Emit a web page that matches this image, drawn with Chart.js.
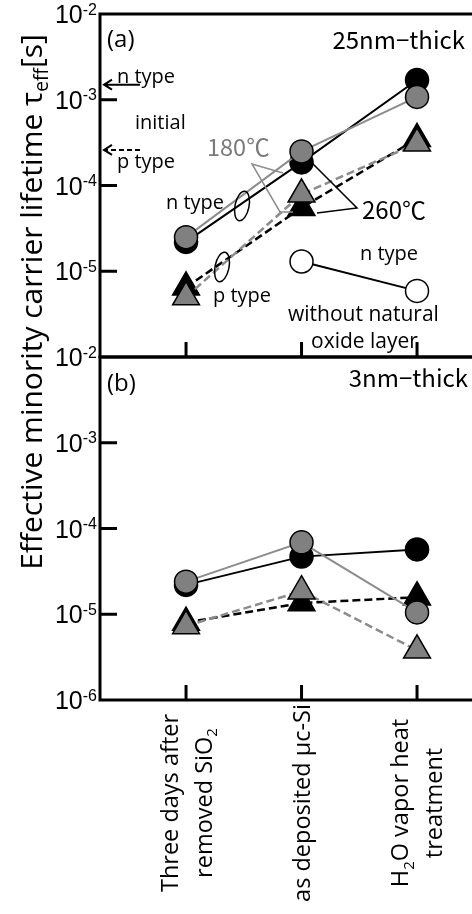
<!DOCTYPE html>
<html>
<head>
<meta charset="utf-8">
<script src="https://cdn.jsdelivr.net/npm/chart.js@4.4.1/dist/chart.umd.min.js"></script>
<style>
  html, body { margin: 0; padding: 0; background: #fff; }
  #wrap { position: relative; width: 472px; height: 914px; }
  canvas { position: absolute; left: 0; top: 0; }
</style>
</head>
<body>
<div id="wrap">
  <canvas id="chartA" width="472" height="372"></canvas>
  <canvas id="chartB" width="472" height="914"></canvas>
</div>
<script>
// categories along x (each entry = lines of the rotated label)
var categories = [["Three days after", "removed SiO_{2}"], ["as deposited \u03bcc-Si"], ["H_{2}O vapor heat", "treatment"]];
var decadeTicks = [1e-2, 1e-3, 1e-4, 1e-5, 1e-6];
var yTitle = "Effective minority carrier lifetime \u03c4_{eff}[s]";

// (a) 25nm-thick
var aN180 = [2.5e-5, 2.5e-4, 1.08e-3];
var aN260 = [2.2e-5, 1.86e-4, 1.7e-3];
var aP180 = [5.0e-6, 7.9e-5, 3.1e-4];
var aP260 = [6.5e-6, 5.5e-5, 3.5e-4];
var aNoOxide = [null, 1.3e-5, 5.9e-6];
var initialN = 1.5e-3;
var initialP = 2.6e-4;

// (b) 3nm-thick
var bN180 = [2.4e-5, 6.9e-5, 1.05e-5];
var bN260 = [2.2e-5, 4.7e-5, 5.7e-5];
var bP180 = [7.3e-6, 1.86e-5, 3.8e-6];
var bP260 = [8.0e-6, 1.35e-5, 1.58e-5];

var GRAY = '#808080';
var GRAYLINE = '#8c8c8c';
var SANS = '"Open Sans", "Noto Sans", sans-serif';
var JP = '"Noto Sans CJK JP", sans-serif';
var ARIAL = '"Liberation Sans", Arial, sans-serif';

function parseRich(s) {
    var parts = [], re = /([_^])\{([^}]*)\}/g, last = 0, m;
    while ((m = re.exec(s))) {
        if (m.index > last) parts.push({ t: s.slice(last, m.index), k: '' });
        parts.push({ t: m[2], k: m[1] });
        last = re.lastIndex;
    }
    if (last < s.length) parts.push({ t: s.slice(last), k: '' });
    return parts;
}

// draws text with _{sub} and ^{sup}; y is the baseline
function drawRich(ctx, s, x, y, size, family, align) {
    var parts = parseRich(s), w = 0;
    parts.forEach(function (p) {
        p.size = p.k ? size * 0.64 : size;
        ctx.font = p.size + 'px ' + family;
        p.w = ctx.measureText(p.t).width;
        w += p.w;
    });
    var cx = align === 'center' ? x - w / 2 : (align === 'right' ? x - w : x);
    ctx.textAlign = 'left';
    ctx.textBaseline = 'alphabetic';
    parts.forEach(function (p) {
        ctx.font = p.size + 'px ' + family;
        var dy = p.k === '_' ? size * 0.22 : (p.k === '^' ? -size * 0.34 : 0);
        ctx.fillText(p.t, cx, y + dy);
        cx += p.w;
    });
}

// text centred vertically on yc
function label(ctx, s, x, yc, size, family, align, color) {
    ctx.fillStyle = color || '#000';
    drawRich(ctx, s, x, yc + size * 0.36, size, family, align);
}

function series(vals) {
    return vals.map(function (v, i) { return { x: i, y: v }; });
}

function ds(vals, fill, shape, lineColor, dashed, width) {
    return {
        data: series(vals),
        borderColor: lineColor,
        borderWidth: width,
        borderDash: dashed ? [8, 4] : [],
        pointStyle: shape,
        pointRadius: shape === 'triangle' ? 15.5 : 11.5,
        pointBorderWidth: 1.5,
        pointBorderColor: '#000',
        pointBackgroundColor: fill,
        showLine: true,
        tension: 0,
        fill: false
    };
}

var framePlugin = {
    id: 'frame',
    afterDraw: function (chart, args, opts) {
        var ctx = chart.ctx, a = chart.chartArea;
        var ys = chart.scales.y, xs = chart.scales.x;
        ctx.save();
        ctx.strokeStyle = '#000';
        ctx.lineWidth = 3;
        ctx.beginPath();
        ctx.moveTo(a.left, a.top); ctx.lineTo(a.right, a.top);
        ctx.moveTo(a.left, a.top - 1.5); ctx.lineTo(a.left, a.bottom + 1.5);
        ctx.moveTo(a.left, a.bottom); ctx.lineTo(a.right, a.bottom);
        ctx.stroke();
        decadeTicks.forEach(function (v) {
            var py = ys.getPixelForValue(v);
            if (v < ys.max && v > ys.min) {
                ctx.beginPath();
                ctx.moveTo(a.left, py); ctx.lineTo(a.left + 17, py);
                ctx.stroke();
            }
            if (opts.skip.indexOf(v) < 0) {
                ctx.fillStyle = '#000';
                drawRich(ctx, '10^{' + Math.round(Math.log10(v)) + '}', 97, py + 9, 25, ARIAL, 'right');
            }
        });
        categories.forEach(function (c, i) {
            var px = xs.getPixelForValue(i);
            ctx.beginPath();
            ctx.moveTo(px, a.bottom); ctx.lineTo(px, a.bottom - 15);
            ctx.stroke();
        });
        ctx.restore();
    }
};

function baseOptions(padding, skip) {
    return {
        responsive: false,
        animation: false,
        devicePixelRatio: 1,
        events: [],
        layout: { padding: padding, autoPadding: false },
        plugins: { legend: { display: false }, tooltip: { enabled: false }, frame: { skip: skip } },
        scales: {
            x: { type: 'linear', display: false, min: -0.745, max: 2.476 },
            y: { type: 'logarithmic', display: false, min: 1e-6, max: 1e-2 }
        }
    };
}

var annotA = {
    id: 'annotA',
    afterDraw: function (chart) {
        var ctx = chart.ctx, ys = chart.scales.y;
        ctx.save();
        label(ctx, '(a)', 107, 38, 24, SANS, 'left');
        label(ctx, '25nm\u2212thick', 465, 40, 24, JP, 'right');

        // initial values arrows
        var yn = ys.getPixelForValue(initialN), yp = ys.getPixelForValue(initialP);
        ctx.strokeStyle = '#000';
        ctx.lineWidth = 2;
        ctx.beginPath();
        ctx.moveTo(140, yn); ctx.lineTo(104, yn);
        ctx.moveTo(112, yn - 5); ctx.lineTo(104, yn); ctx.lineTo(112, yn + 5);
        ctx.stroke();
        ctx.setLineDash([5, 3]);
        ctx.beginPath();
        ctx.moveTo(140, yp); ctx.lineTo(105, yp);
        ctx.stroke();
        ctx.setLineDash([]);
        ctx.beginPath();
        ctx.moveTo(112, yp - 5); ctx.lineTo(104, yp); ctx.lineTo(112, yp + 5);
        ctx.stroke();
        label(ctx, 'n type', 117, yn - 9, 20, SANS, 'left');
        label(ctx, 'initial', 135, 122, 20, SANS, 'left');
        label(ctx, 'p type', 117, yp + 11, 20, SANS, 'left');

        // temperature pointers
        label(ctx, '180\u2103', 207, 148, 23.5, JP, 'left', '#7a7a7a');
        ctx.lineWidth = 1.5;
        ctx.strokeStyle = GRAYLINE;
        ctx.beginPath();
        ctx.moveTo(283, 173); ctx.lineTo(252, 164); ctx.lineTo(280, 212); ctx.lineTo(293, 212);
        ctx.stroke();
        ctx.strokeStyle = '#000';
        ctx.beginPath();
        ctx.moveTo(311, 162); ctx.lineTo(357, 208); ctx.lineTo(317, 213);
        ctx.stroke();
        label(ctx, '260\u2103', 362, 210, 24, JP, 'left');

        // type ellipses
        label(ctx, 'n type', 166, 202, 20, SANS, 'left');
        ctx.beginPath();
        ctx.ellipse(242, 206, 7, 15, 0.2, 0, Math.PI * 2);
        ctx.stroke();
        ctx.beginPath();
        ctx.ellipse(222, 267, 7, 15, 0.2, 0, Math.PI * 2);
        ctx.stroke();
        label(ctx, 'p type', 213, 295, 20, SANS, 'left');

        label(ctx, 'n type', 360, 253, 20, SANS, 'left');
        label(ctx, 'without natural', 288, 313, 21, SANS, 'left');
        label(ctx, 'oxide layer', 311, 340, 21, SANS, 'left');
        ctx.restore();
    }
};

var annotB = {
    id: 'annotB',
    afterDraw: function (chart) {
        var ctx = chart.ctx, xs = chart.scales.x;
        ctx.save();
        label(ctx, '(b)', 107, 382, 24, SANS, 'left');
        label(ctx, '3nm\u2212thick', 468, 378, 24, JP, 'right');

        // y axis title
        ctx.save();
        ctx.translate(31, 302);
        ctx.rotate(-Math.PI / 2);
        ctx.fillStyle = '#000';
        drawRich(ctx, yTitle, 0, 30 * 0.36, 30, SANS, 'center');
        ctx.restore();

        // rotated category labels
        categories.forEach(function (lines, i) {
            var px = xs.getPixelForValue(i);
            lines.forEach(function (t, j) {
                var cx = px + (j - (lines.length - 1) / 2) * 34;
                ctx.save();
                ctx.translate(cx, 803);
                ctx.rotate(-Math.PI / 2);
                ctx.fillStyle = '#000';
                drawRich(ctx, t, 0, 23.5 * 0.36, 23.5, SANS, 'center');
                ctx.restore();
            });
        });
        ctx.restore();
    }
};

new Chart(document.getElementById('chartA'), {
    type: 'line',
    data: {
        datasets: [
            ds(aN180, GRAY, 'circle', GRAYLINE, false, 2),
            ds(aP180, GRAY, 'triangle', GRAYLINE, true, 2.5),
            ds(aN260, '#000', 'circle', '#000', false, 2),
            ds(aP260, '#000', 'triangle', '#000', true, 2.5),
            ds(aNoOxide, '#fff', 'circle', '#000', false, 2)
        ]
    },
    options: baseOptions({ left: 100, top: 14, right: 0, bottom: 15 }, [1e-6]),
    plugins: [framePlugin, annotA]
});

new Chart(document.getElementById('chartB'), {
    type: 'line',
    data: {
        datasets: [
            ds(bN180, GRAY, 'circle', GRAYLINE, false, 2),
            ds(bP180, GRAY, 'triangle', GRAYLINE, true, 2.5),
            ds(bN260, '#000', 'circle', '#000', false, 2),
            ds(bP260, '#000', 'triangle', '#000', true, 2.5)
        ]
    },
    options: baseOptions({ left: 100, top: 357, right: 0, bottom: 214 }, []),
    plugins: [framePlugin, annotB]
});
</script>
</body>
</html>
